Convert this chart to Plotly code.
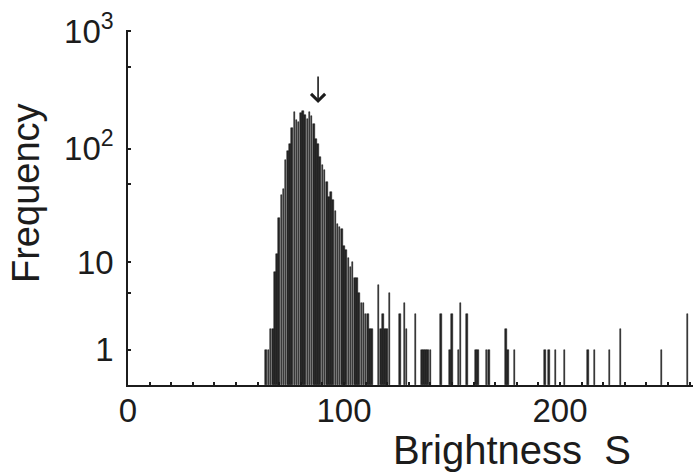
import numpy as np
import plotly.graph_objects as go

# Brightness bins (S) and event counts
brightness = list(range(64, 114)) + [
    116, 117, 118, 119, 120, 121, 126, 128, 129, 133,
    136, 137, 138, 139, 140, 145, 149, 150, 153, 154,
    157, 161, 162, 166, 167, 175, 176, 179, 193, 195,
    198, 202, 213, 216, 223, 228, 247, 259]
counts = [
    1, 1, 2, 2, 8, 12, 25, 40, 45, 80,
    95, 110, 150, 205, 175, 168, 200, 210, 195, 180,
    205, 190, 162, 120, 110, 84, 72, 65, 52, 38,
    42, 36, 29, 22, 21, 20, 14, 13, 11, 9,
    10, 7, 7, 5, 4, 4, 3, 3, 2, 2,
    6, 2, 3, 2, 2, 5, 3, 4, 2, 3,
    1, 1, 1, 1, 1, 3, 1, 3, 1, 4,
    3, 1, 1, 1, 1, 2, 1, 1, 1, 1,
    1, 1, 1, 1, 1, 2, 1, 3]

x_ticks = [0, 100, 200]
x_ticklabels = ["0", "100", "200"]
y_tickcounts = [1, 10, 100, 1000]
y_ticklabels = ["1", "10", "10<sup>2</sup>", "10<sup>3</sup>"]
y_minorcounts = [5, 50, 500]
arrow_S = 88

# frequency axis is log10(1 + count)
ylog = np.log10(1 + np.array(counts, dtype=float))

FONT = "Liberation Sans, Arial, Helvetica, sans-serif"
INK = "#1c1c1c"

fig = go.Figure(go.Bar(
    x=brightness, y=ylog, width=0.72,
    marker=dict(color="#262626", line=dict(color="#111111", width=0.5)),
))

fig.update_layout(
    width=693, height=476,
    margin=dict(l=128, r=0, t=30, b=91),
    paper_bgcolor="white", plot_bgcolor="white",
    showlegend=False, bargap=0,
    font=dict(family=FONT, color=INK),
)

fig.update_xaxes(
    range=[0, 565 / 2.16],
    showline=True, linecolor=INK, linewidth=1.5,
    showgrid=False, zeroline=False,
    tickvals=x_ticks, ticktext=x_ticklabels,
    ticks="inside", ticklen=3, tickcolor=INK, tickwidth=1.5,
    tickfont=dict(size=33, family=FONT, color=INK),
    ticklabelstandoff=-4,
    minor=dict(dtick=10, tick0=0, ticks="inside", ticklen=3, tickcolor=INK, tickwidth=1.5, showgrid=False),
)
fig.update_yaxes(
    range=[0, 3.01],
    showline=True, linecolor=INK, linewidth=1.5,
    showgrid=False, zeroline=False,
    tickvals=list(np.log10(1 + np.array(y_tickcounts, dtype=float))), ticktext=y_ticklabels,
    ticks="inside", ticklen=3, tickcolor=INK, tickwidth=1.5,
    tickfont=dict(size=33, family=FONT, color=INK),
    ticklabelstandoff=6,
    minor=dict(tickvals=list(np.log10(1 + np.array(y_minorcounts, dtype=float))),
               ticks="inside", ticklen=3, tickcolor=INK, tickwidth=1.5, showgrid=False),
)

fig.add_annotation(
    x=arrow_S, y=2.39, xref="x", yref="y", ax=0, ay=-28,
    text="", showarrow=True, arrowhead=4, arrowsize=1.7, arrowwidth=1.6, arrowcolor=INK,
)
fig.add_annotation(
    text="Frequency", textangle=-90, showarrow=False,
    xref="paper", yref="paper", x=(26 - 128) / 565, y=(385 - 193) / 355,
    xanchor="center", yanchor="middle",
    font=dict(size=38, family=FONT, color=INK),
)
fig.add_annotation(
    text="Brightness\u00a0\u00a0S", showarrow=False,
    xref="paper", yref="paper", x=(512 - 128) / 565, y=(385 - 450) / 355,
    xanchor="center", yanchor="middle",
    font=dict(size=40, family=FONT, color=INK),
)

fig.write_html("out.html")
